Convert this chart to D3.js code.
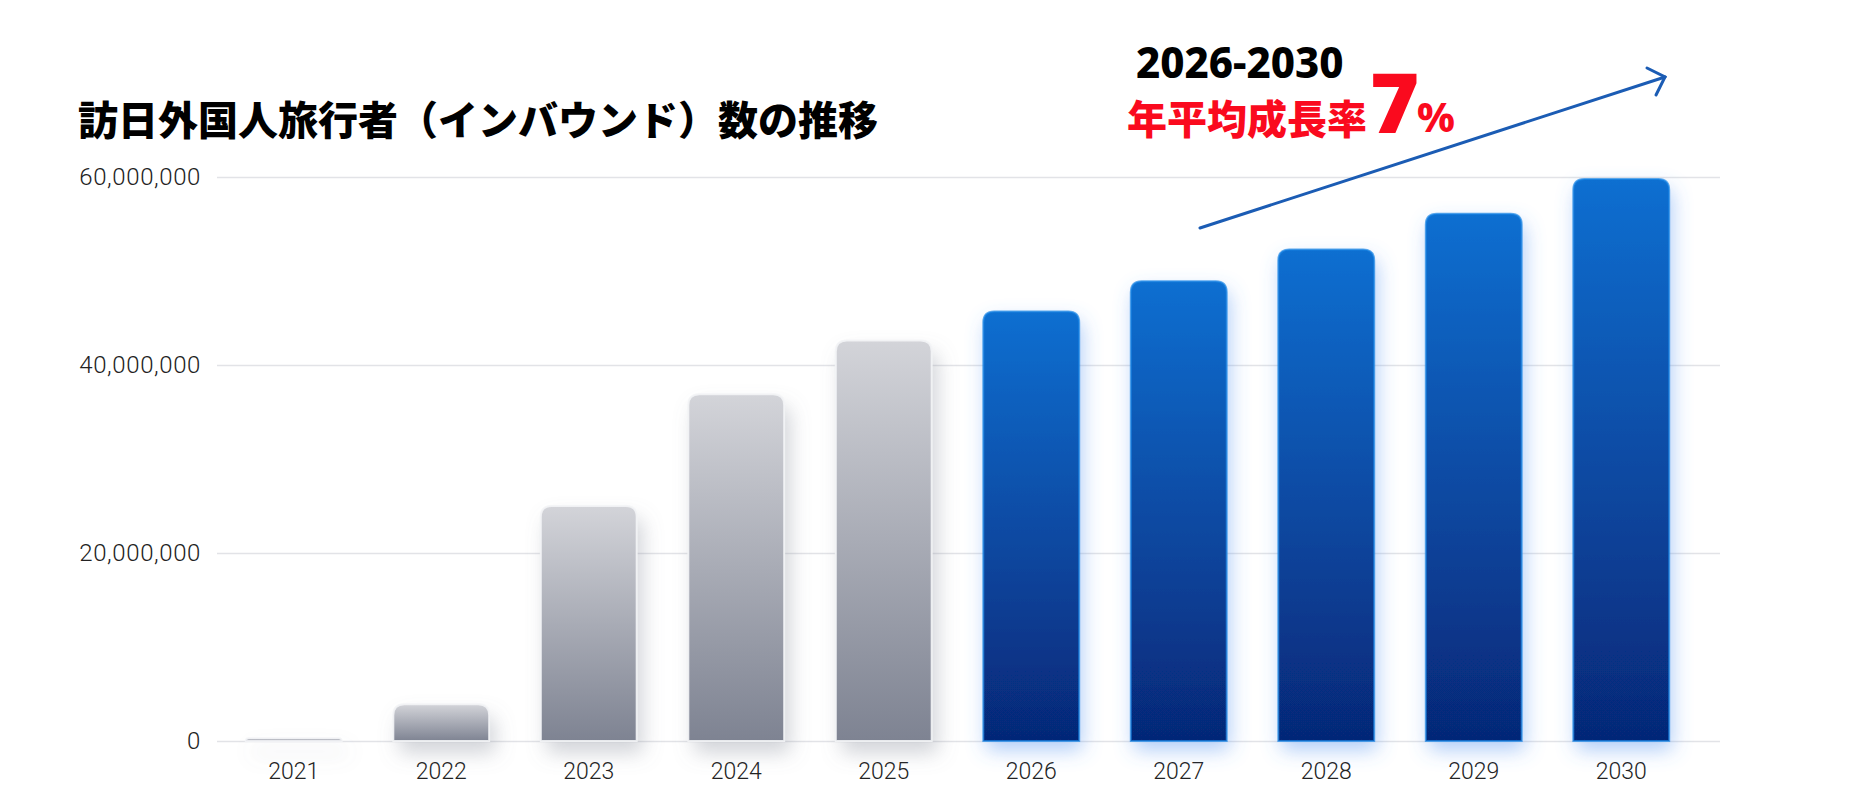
<!DOCTYPE html>
<html lang="ja">
<head>
<meta charset="utf-8">
<script src="https://cdn.jsdelivr.net/npm/d3@7"></script>
<style>
  html, body { margin: 0; padding: 0; background: #fff; }
  #chart svg { display: block; }
  .tick text { font-family: Roboto, "Noto Sans", sans-serif; font-weight: 300; fill: #222; }
</style>
</head>
<body>
<div id="chart"></div>
<script>
// Data
const years = ["2021", "2022", "2023", "2024", "2025", "2026", "2027", "2028", "2029", "2030"];
const visitors = [300000, 3900000, 25000000, 36900000, 42600000, 45700000, 48900000, 52300000, 56100000, 59800000];
const forecastYears = ["2026", "2027", "2028", "2029", "2030"];
const yTicks = [0, 20000000, 40000000, 60000000];

const titleText = "訪日外国人旅行者（インバウンド）数の推移";
const periodText = "2026-2030";
const rateLabel = "年平均成長率";
const rateValue = "7";

function drawChart() {
  const width = 1862;
  const height = 808;
  const gridLeft = 217;
  const gridRight = 1720;

  const svg = d3.select("#chart")
    .append("svg")
    .attr("width", width)
    .attr("height", height)
    .attr("viewBox", [0, 0, width, height]);

  const x = d3.scaleBand()
    .domain(years)
    .range([220, 1695])
    .paddingInner(0.35)
    .paddingOuter(0.175);

  const y = d3.scaleLinear()
    .domain([0, 60000000])
    .range([741, 177]);

  const defs = svg.append("defs");

  // bar gradients
  const grayGrad = defs.append("linearGradient")
    .attr("id", "grad-gray")
    .attr("x1", 0).attr("y1", 0).attr("x2", 0).attr("y2", 1);
  grayGrad.append("stop").attr("offset", "0%").attr("stop-color", "#d3d4d9");
  grayGrad.append("stop").attr("offset", "100%").attr("stop-color", "#7e8392");

  const blueGrad = defs.append("linearGradient")
    .attr("id", "grad-blue")
    .attr("x1", 0).attr("y1", 0).attr("x2", 0).attr("y2", 1);
  blueGrad.append("stop").attr("offset", "0%").attr("stop-color", "#0c6fd1");
  blueGrad.append("stop").attr("offset", "100%").attr("stop-color", "#062777");

  // shadows
  const grayShadow = defs.append("filter")
    .attr("id", "shadow-gray")
    .attr("filterUnits", "userSpaceOnUse")
    .attr("x", 0).attr("y", 0).attr("width", width).attr("height", height);
  grayShadow.append("feDropShadow")
    .attr("dx", 6).attr("dy", 12).attr("stdDeviation", 10)
    .attr("flood-color", "#7d8290").attr("flood-opacity", 0.35);

  const blueShadow = defs.append("filter")
    .attr("id", "shadow-blue")
    .attr("filterUnits", "userSpaceOnUse")
    .attr("x", 0).attr("y", 0).attr("width", width).attr("height", height);
  blueShadow.append("feDropShadow")
    .attr("dx", 3).attr("dy", 9).attr("stdDeviation", 10)
    .attr("flood-color", "#4d8ff0").attr("flood-opacity", 0.45);

  // y axis + gridlines
  const yAxis = d3.axisLeft(y)
    .tickValues(yTicks)
    .tickFormat(d3.format(","))
    .tickSize(-(gridRight - gridLeft))
    .tickPadding(16);

  const gy = svg.append("g")
    .attr("transform", `translate(${gridLeft},0)`)
    .call(yAxis);
  gy.select(".domain").remove();
  gy.selectAll(".tick line").attr("stroke", "#e2e3e7").attr("stroke-width", 1.5);
  gy.selectAll(".tick text")
    .style("font-size", "24px")
    .style("letter-spacing", "0.6px");

  // x axis
  const xAxis = d3.axisBottom(x).tickSize(0).tickPadding(22);
  const gx = svg.append("g")
    .attr("transform", `translate(0,${y(0)})`)
    .call(xAxis);
  gx.select(".domain").remove();
  gx.selectAll(".tick text").style("font-size", "23px");

  // bars
  const isForecast = d => forecastYears.includes(d);
  const r = 11;
  const barPath = (d, i) => {
    const x0 = x(d);
    const w = x.bandwidth();
    const top = y(visitors[i]);
    const bottom = y(0);
    const rr = Math.min(r, bottom - top, w / 2);
    return `M${x0},${bottom}V${top + rr}Q${x0},${top} ${x0 + rr},${top}` +
      `H${x0 + w - rr}Q${x0 + w},${top} ${x0 + w},${top + rr}V${bottom}Z`;
  };

  const bars = svg.append("g")
    .selectAll("g")
    .data(years)
    .join("g");

  bars.append("path")
    .attr("d", barPath)
    .attr("fill", d => isForecast(d) ? "url(#grad-blue)" : "url(#grad-gray)")
    .attr("filter", d => isForecast(d) ? "url(#shadow-blue)" : "url(#shadow-gray)");

  // edge highlight
  bars.append("path")
    .attr("d", barPath)
    .attr("fill", "none")
    .attr("stroke", d => isForecast(d) ? "#1a86e6" : "#f3f4f6")
    .attr("stroke-opacity", d => isForecast(d) ? 0.7 : 0.9)
    .attr("stroke-width", 2);

  // title
  svg.append("text")
    .attr("x", 78)
    .attr("y", 135)
    .style("font-family", '"Noto Sans CJK JP", sans-serif')
    .style("font-weight", 900)
    .style("font-size", "40px")
    .attr("fill", "#000")
    .text(titleText);

  // growth annotation
  svg.append("text")
    .attr("x", 1136)
    .attr("y", 78)
    .style("font-family", '"Noto Sans", "Noto Sans CJK JP", sans-serif')
    .style("font-weight", 800)
    .style("font-size", "42px")
    .attr("fill", "#000")
    .text(periodText);

  svg.append("text")
    .attr("x", 1127)
    .attr("y", 134)
    .style("font-family", '"Noto Sans CJK JP", sans-serif')
    .style("font-weight", 900)
    .style("font-size", "40px")
    .attr("fill", "#fa0a1e")
    .text(rateLabel);

  svg.append("text")
    .attr("x", 1370)
    .attr("y", 133)
    .style("font-family", '"Noto Sans", sans-serif')
    .style("font-weight", 900)
    .style("font-size", "84px")
    .attr("fill", "#fa0a1e")
    .text(rateValue);

  svg.append("text")
    .attr("x", 1417)
    .attr("y", 132)
    .style("font-family", '"Noto Sans", sans-serif')
    .style("font-weight", 800)
    .style("font-size", "41px")
    .attr("fill", "#fa0a1e")
    .text("%");

  // trend arrow
  const arrow = svg.append("g")
    .attr("stroke", "#1b5cb4")
    .attr("stroke-width", 3)
    .attr("stroke-linecap", "round")
    .attr("fill", "none");
  arrow.append("line")
    .attr("x1", 1200).attr("y1", 228)
    .attr("x2", 1665).attr("y2", 77);
  arrow.append("path")
    .attr("d", "M1647,68L1665,77L1656,95");
}

drawChart();
</script>
</body>
</html>
